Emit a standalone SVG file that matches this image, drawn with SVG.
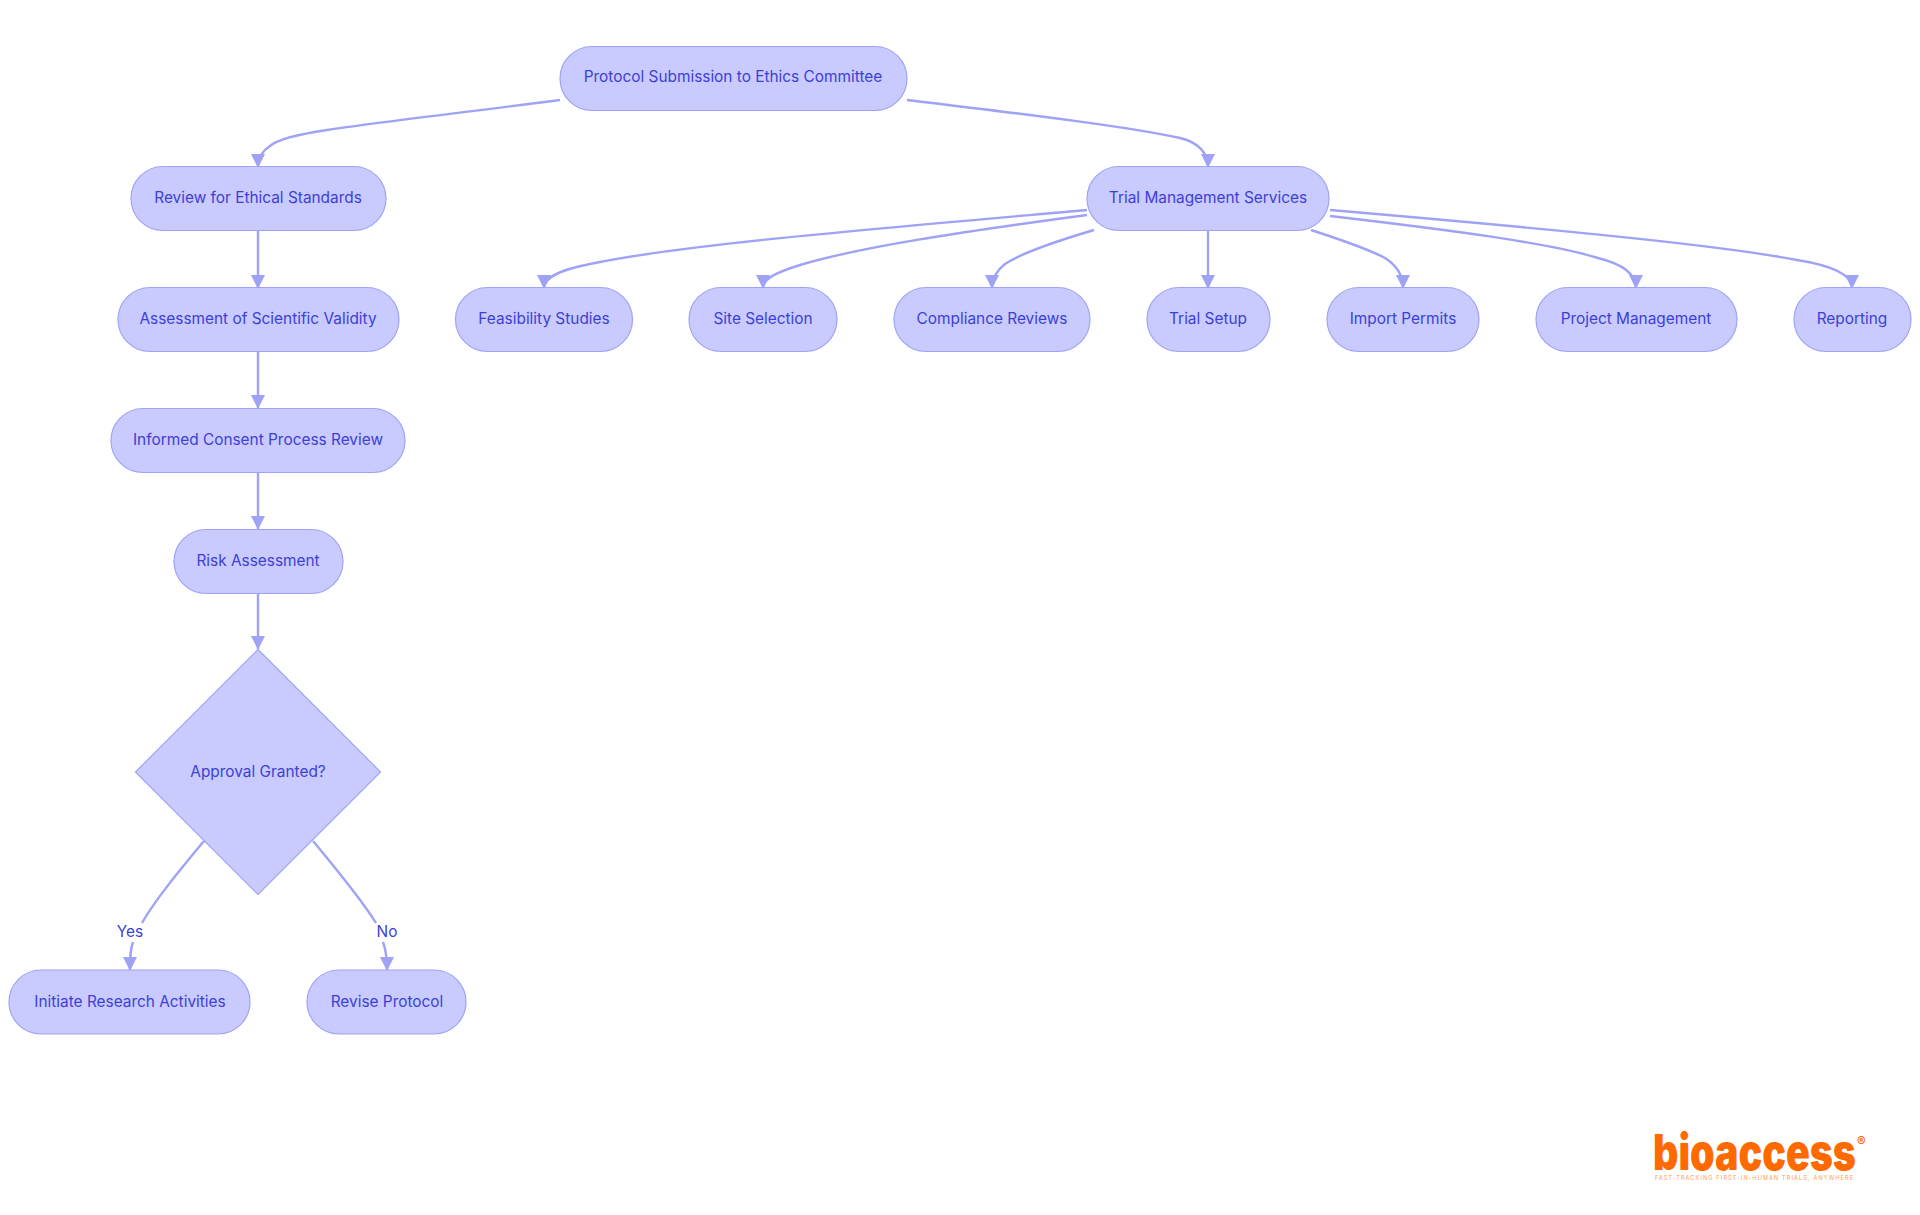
<svg xmlns="http://www.w3.org/2000/svg" width="1920" height="1215" viewBox="0 0 1920 1215">
<style>
.n rect,.n polygon{fill:#c9cbff;stroke:#a0a3f5;stroke-width:1.2}
text{font-family:"Inter","Noto Sans","Liberation Sans",sans-serif}
.n text,.l{font-size:15.4px;fill:#3c40d6;text-anchor:middle}
.c path{fill:none;stroke:#9fa2f5;stroke-width:2.4}
</style>
<defs><marker id="a" markerUnits="userSpaceOnUse" markerWidth="14" markerHeight="14" refX="13" refY="7" orient="auto"><path d="M0 0L14 7L0 14Z" fill="#9fa2f5"/></marker></defs>
<rect width="1920" height="1215" fill="#fff"/>
<g class="c" id="connectors">
<path marker-end="url(#a)" d="M560 100C460 113 380 122 327 130C300 134 278 139 270 146C262 151 258 157 258 167"/>
<path marker-end="url(#a)" d="M907 100C1040 116 1130 127 1180 138C1197 142 1208 152 1208 167"/>
<path marker-end="url(#a)" d="M258 231V288"/>
<path marker-end="url(#a)" d="M258 351V408"/>
<path marker-end="url(#a)" d="M258 472V529"/>
<path marker-end="url(#a)" d="M258 593V649"/>
<path marker-end="url(#a)" d="M1087 210C850 231 680 245 590 264C560 270 544 277 544 288"/>
<path marker-end="url(#a)" d="M1087 215C960 232 860 247 800 265C778 272 763 278 763 288"/>
<path marker-end="url(#a)" d="M1094 230C1050 243 1020 254 1005 264C996 271 992 279 992 288"/>
<path marker-end="url(#a)" d="M1208 231V288"/>
<path marker-end="url(#a)" d="M1311 230C1345 241 1370 250 1385 258C1396 265 1403 275 1403 288"/>
<path marker-end="url(#a)" d="M1330 216C1450 230 1550 243 1598 258C1622 264 1636 273 1636 288"/>
<path marker-end="url(#a)" d="M1330 210C1540 228 1720 245 1797 260C1835 266 1852 275 1852 288"/>
<path d="M204 841C180 870 155 900 142 923"/>
<path marker-end="url(#a)" d="M133 942C130 950 130 958 130 970"/>
<path d="M313 841C337 870 362 900 376 923"/>
<path marker-end="url(#a)" d="M383 942C386 950 387 958 387 970"/>
</g>
<g class="n" id="n1"><rect x="560" y="46.500" width="347" height="64" rx="32"/><text x="733" y="82">Protocol Submission to Ethics Committee</text></g>
<g class="n" id="n2"><rect x="131" y="166.500" width="255" height="64" rx="32"/><text x="258" y="203">Review for Ethical Standards</text></g>
<g class="n" id="n3"><rect x="1087" y="166.500" width="242" height="64" rx="32"/><text x="1208" y="203">Trial Management Services</text></g>
<g class="n" id="n4"><rect x="118" y="287.500" width="281" height="64" rx="32"/><text x="258" y="324">Assessment of Scientific Validity</text></g>
<g class="n" id="n5"><rect x="111" y="408.500" width="294" height="64" rx="32"/><text x="258" y="445">Informed Consent Process Review</text></g>
<g class="n" id="n6"><rect x="174" y="529.500" width="169" height="64" rx="32"/><text x="258" y="566">Risk Assessment</text></g>
<g class="n" id="n7"><polygon points="258,649.500 380.500,772 258,894.500 135.500,772"/><text x="258" y="777">Approval Granted?</text></g>
<g class="n" id="n8"><rect x="9" y="970" width="241" height="64" rx="32"/><text x="130" y="1007">Initiate Research Activities</text></g>
<g class="n" id="n9"><rect x="307" y="970" width="159" height="64" rx="32"/><text x="387" y="1007">Revise Protocol</text></g>
<g class="n" id="n10"><rect x="455.500" y="287.500" width="177" height="64" rx="32"/><text x="544" y="324">Feasibility Studies</text></g>
<g class="n" id="n11"><rect x="689" y="287.500" width="148" height="64" rx="32"/><text x="763" y="324">Site Selection</text></g>
<g class="n" id="n12"><rect x="894" y="287.500" width="196" height="64" rx="32"/><text x="992" y="324">Compliance Reviews</text></g>
<g class="n" id="n13"><rect x="1147" y="287.500" width="123" height="64" rx="32"/><text x="1208" y="324">Trial Setup</text></g>
<g class="n" id="n14"><rect x="1327" y="287.500" width="152" height="64" rx="32"/><text x="1403" y="324">Import Permits</text></g>
<g class="n" id="n15"><rect x="1536" y="287.500" width="201" height="64" rx="32"/><text x="1636" y="324">Project Management</text></g>
<g class="n" id="n16"><rect x="1794" y="287.500" width="117" height="64" rx="32"/><text x="1852" y="324">Reporting</text></g>
<text class="l" x="130" y="937">Yes</text>
<text class="l" x="387" y="937">No</text>
<g id="logo">
<text x="1653" y="1170" font-size="50" font-weight="900" fill="#ff6a00" textLength="203" lengthAdjust="spacingAndGlyphs">bioaccess</text>
<text x="1857" y="1146" font-size="13" font-weight="700" fill="#ff6a00">®</text>
<text x="1655" y="1180" font-size="5.500" fill="#ff9a50" textLength="198" lengthAdjust="spacing">FAST-TRACKING FIRST-IN-HUMAN TRIALS, ANYWHERE</text>
</g>
</svg>
